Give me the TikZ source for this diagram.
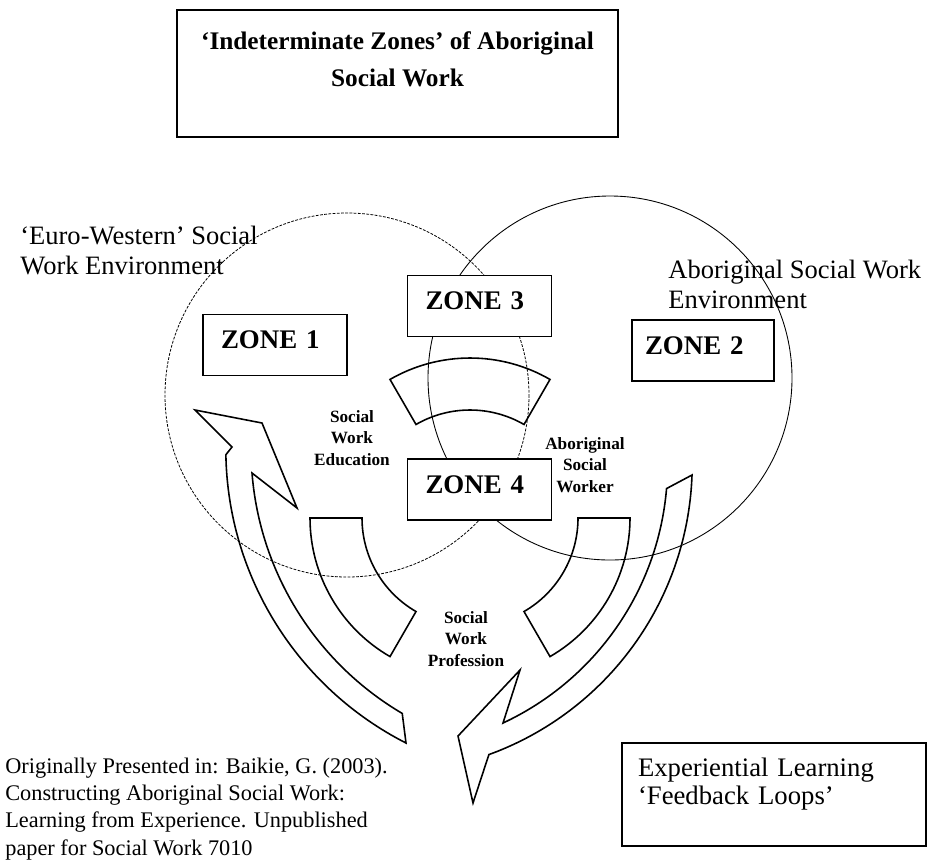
\documentclass[tikz,border=0pt]{standalone}
\usepackage{fontspec}
\setmainfont{Liberation Serif}
\usetikzlibrary{positioning}

\begin{document}
\begin{tikzpicture}[
  x=0.02cm, y=-0.02cm,
  zone/.style={draw, fill=white, line width=0.9pt, inner xsep=0.36cm, text width=2.16cm, minimum height=1.22cm, text depth=0.2cm, align=left, font=\fontsize{15.3}{17}\selectfont\bfseries},
  frame/.style={draw, line width=0.8pt},
  env/.style={inner sep=0pt, align=left, font=\fontsize{15.1}{17.1}\selectfont},
  role/.style={inner sep=0pt, align=center, font=\fontsize{9.8}{12.2}\selectfont\bfseries},
  band/.style={line width=0.9pt, line join=miter}
]
\useasboundingbox (0,0) rectangle (935,866);

\draw[line width=0.45pt, dash pattern=on 1.6pt off 0.8pt] (347,395) circle[radius=182];
\draw[line width=0.5pt] (610,378) circle[radius=182];

\node[frame, minimum width=8.82cm, minimum height=2.54cm, align=center, text height=0.5cm, text depth=0cm, font=\fontsize{14.4}{21}\selectfont\bfseries] (title) at (397.5,73.5) {‘Indeterminate Zones’ of Aboriginal\\Social Work};

\begin{scope}[shift={(470,518)}]
\draw[band] (-120:160) arc[start angle=-120, end angle=-60, radius=160] -- (-60:108) arc[start angle=-60, end angle=-120, radius=108] -- cycle;
\draw[band] (0:160) arc[start angle=0, end angle=60, radius=160] -- (60:108) arc[start angle=60, end angle=0, radius=108] -- cycle;
\draw[band] (120:160) arc[start angle=120, end angle=180, radius=160] -- (180:108) arc[start angle=180, end angle=120, radius=108] -- cycle;
\end{scope}

\draw[band] (406,743) arc[start angle=117, end angle=179, radius=330] -- (232,447) -- (195,410) -- (262,423) -- (297,508) -- (252,473) arc[start angle=175.5, end angle=120.5, radius=307] -- cycle;
\draw[band] (692,475) arc[start angle=2, end angle=70, radius=309] -- (473,803) -- (458,736) -- (520,670) -- (503,723) arc[start angle=65, end angle=4.8, radius=285] -- cycle;

\node[zone] (zone1) at (275,345) {ZONE 1};
\node[zone] (zone3) at (479.5,306) {ZONE 3};
\node[zone, inner xsep=0.26cm, text width=2.32cm] (zone2) at (703,350.5) {ZONE 2};
\node[zone, below=2.42cm of zone3] (zone4) {ZONE 4};

\node[env, anchor=north west] (euro) at (20,226) {‘Euro-Western’ Social\\Work Environment};
\node[env, anchor=north west] (aborig) at (668,260) {Aboriginal Social Work\\Environment};

\node[role] (edu) at (352,438) {Social\\Work\\Education};
\node[role] (worker) at (585,465) {Aboriginal\\Social\\Worker};
\node[role] (prof) at (466,639) {Social\\Work\\Profession};

\node[frame, inner xsep=0.32cm, text width=5.44cm, minimum height=2.06cm, align=left, text height=0.4cm, text depth=1.14cm, font=\fontsize{15.2}{16}\selectfont] (loops) at (774,794.5) {Experiential Learning\\‘Feedback Loops’};

\node[inner sep=0pt, anchor=north west, align=left, font=\fontsize{12.7}{15.4}\selectfont] (source) at (5,758) {Originally Presented in: Baikie, G. (2003).\\Constructing Aboriginal Social Work:\\Learning from Experience. Unpublished\\paper for Social Work 7010};
\end{tikzpicture}
\end{document}
